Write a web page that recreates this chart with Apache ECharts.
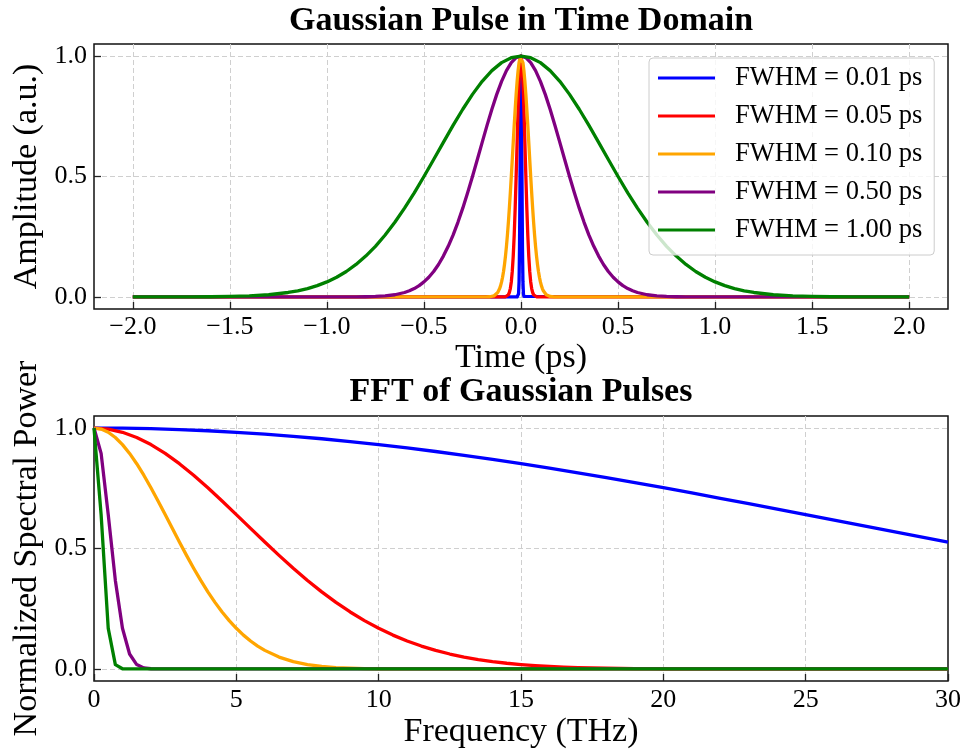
<!DOCTYPE html>
<html>
<head>
<meta charset="utf-8">
<script src="https://cdn.jsdelivr.net/npm/echarts@6/dist/echarts.min.js"></script>
<style>
  html, body { margin: 0; padding: 0; background: #ffffff; }
  #chart { width: 962px; height: 752px; }
</style>
</head>
<body>
<div id="chart"></div>
<script>
// ---------- Data ----------
const seriesNames = ['FWHM = 0.01 ps', 'FWHM = 0.05 ps', 'FWHM = 0.10 ps', 'FWHM = 0.50 ps', 'FWHM = 1.00 ps'];
const seriesColors = ['#0000ff', '#ff0000', '#ffa500', '#800080', '#008000'];

// Top panel: time (ps) and amplitude (a.u.)
const timeBlue = [-2.0,-0.02,-0.015,-0.0125,-0.01,-0.0075,-0.005,-0.0025,0,0.0025,0.005,0.0075,0.01,0.0125,0.015,0.02,2.0];
const ampBlue  = [0,0,0.0020,0.0131,0.0625,0.2102,0.5,0.8409,1,0.8409,0.5,0.2102,0.0625,0.0131,0.0020,0,0];

const timeRed = [-2.0,-0.1,-0.08,-0.075,-0.07,-0.065,-0.06,-0.055,-0.05,-0.045,-0.04,-0.035,-0.03,-0.025,-0.02,-0.015,-0.01,-0.005,0,
                 0.005,0.01,0.015,0.02,0.025,0.03,0.035,0.04,0.045,0.05,0.055,0.06,0.065,0.07,0.075,0.08,0.1,2.0];
const ampRed  = [0,0,0.0008,0.0020,0.0044,0.0092,0.0185,0.0349,0.0625,0.1058,0.1696,0.2570,0.3686,0.5,0.6417,0.7792,0.8950,0.9727,1,
                 0.9727,0.8950,0.7792,0.6417,0.5,0.3686,0.2570,0.1696,0.1058,0.0625,0.0349,0.0185,0.0092,0.0044,0.0020,0.0008,0,0];

const timeOrange = [-2.0,-0.2,-0.18,-0.17,-0.16,-0.15,-0.14,-0.13,-0.12,-0.115,-0.11,-0.105,-0.1,-0.095,-0.09,-0.085,-0.08,-0.075,-0.07,-0.065,-0.06,-0.055,-0.05,-0.045,-0.04,-0.035,-0.03,-0.025,-0.02,-0.015,-0.01,-0.005,0,
                    0.005,0.01,0.015,0.02,0.025,0.03,0.035,0.04,0.045,0.05,0.055,0.06,0.065,0.07,0.075,0.08,0.085,0.09,0.095,0.1,0.105,0.11,0.115,0.12,0.13,0.14,0.15,0.16,0.17,0.18,0.2,2.0];
const ampOrange  = [0,0,0.0001,0.0003,0.0008,0.0020,0.0044,0.0092,0.0185,0.0256,0.0349,0.0470,0.0625,0.0819,0.1058,0.1349,0.1696,0.2102,0.2570,0.3099,0.3686,0.4323,0.5,0.5704,0.6417,0.7121,0.7792,0.8409,0.8950,0.9395,0.9727,0.9931,1,
                    0.9931,0.9727,0.9395,0.8950,0.8409,0.7792,0.7121,0.6417,0.5704,0.5,0.4323,0.3686,0.3099,0.2570,0.2102,0.1696,0.1349,0.1058,0.0819,0.0625,0.0470,0.0349,0.0256,0.0185,0.0092,0.0044,0.0020,0.0008,0.0003,0.0001,0,0];

const timePurple = [-2.0,-1.0,-0.9,-0.85,-0.8,-0.75,-0.7,-0.65,-0.6,-0.575,-0.55,-0.525,-0.5,-0.475,-0.45,-0.425,-0.4,-0.375,-0.35,-0.325,-0.3,-0.275,-0.25,-0.225,-0.2,-0.175,-0.15,-0.125,-0.1,-0.075,-0.05,-0.025,0,
                    0.025,0.05,0.075,0.1,0.125,0.15,0.175,0.2,0.225,0.25,0.275,0.3,0.325,0.35,0.375,0.4,0.425,0.45,0.475,0.5,0.525,0.55,0.575,0.6,0.65,0.7,0.75,0.8,0.85,0.9,1.0,2.0];
const ampPurple  = [0,0,0.0001,0.0003,0.0008,0.0020,0.0044,0.0092,0.0185,0.0256,0.0349,0.0470,0.0625,0.0819,0.1058,0.1349,0.1696,0.2102,0.2570,0.3099,0.3686,0.4323,0.5,0.5704,0.6417,0.7121,0.7792,0.8409,0.8950,0.9395,0.9727,0.9931,1,
                    0.9931,0.9727,0.9395,0.8950,0.8409,0.7792,0.7121,0.6417,0.5704,0.5,0.4323,0.3686,0.3099,0.2570,0.2102,0.1696,0.1349,0.1058,0.0819,0.0625,0.0470,0.0349,0.0256,0.0185,0.0092,0.0044,0.0020,0.0008,0.0003,0.0001,0,0];

const timeGreen = [-2.0,-1.8,-1.7,-1.6,-1.5,-1.4,-1.3,-1.2,-1.15,-1.1,-1.05,-1.0,-0.95,-0.9,-0.85,-0.8,-0.75,-0.7,-0.65,-0.6,-0.55,-0.5,-0.45,-0.4,-0.35,-0.3,-0.25,-0.2,-0.15,-0.1,-0.05,0,
                   0.05,0.1,0.15,0.2,0.25,0.3,0.35,0.4,0.45,0.5,0.55,0.6,0.65,0.7,0.75,0.8,0.85,0.9,0.95,1.0,1.05,1.1,1.15,1.2,1.3,1.4,1.5,1.6,1.7,1.8,2.0];
const ampGreen  = [0,0.0001,0.0003,0.0008,0.0020,0.0044,0.0092,0.0185,0.0256,0.0349,0.0470,0.0625,0.0819,0.1058,0.1349,0.1696,0.2102,0.2570,0.3099,0.3686,0.4323,0.5,0.5704,0.6417,0.7121,0.7792,0.8409,0.8950,0.9395,0.9727,0.9931,1,
                   0.9931,0.9727,0.9395,0.8950,0.8409,0.7792,0.7121,0.6417,0.5704,0.5,0.4323,0.3686,0.3099,0.2570,0.2102,0.1696,0.1349,0.1058,0.0819,0.0625,0.0470,0.0349,0.0256,0.0185,0.0092,0.0044,0.0020,0.0008,0.0003,0.0001,0];

// Bottom panel: frequency (THz) and normalized spectral power
const freqBlue  = [0,1,2,3,4,5,6,7,8,9,10,11,12,13,14,15,16,17,18,19,20,21,22,23,24,25,26,27,28,29,30];
const powerBlue = [1,0.9993,0.9972,0.9936,0.9887,0.9824,0.9747,0.9657,0.9555,0.9440,0.9313,0.9175,0.9026,0.8866,0.8698,0.8520,
                   0.8334,0.8140,0.7940,0.7734,0.7522,0.7305,0.7085,0.6862,0.6636,0.6408,0.6180,0.5951,0.5723,0.5495,0.5269];

const freqRed  = [0,0.5,1,1.5,2,2.5,3,3.5,4,4.5,5,5.5,6,6.5,7,7.5,8,8.5,9,9.5,10,10.5,11,11.5,12,12.5,13,13.5,14,14.5,15,15.5,16,16.5,17,17.5,18,18.5,19,19.5,20,20.5,21,21.5,22,30];
const powerRed = [1,0.9956,0.9824,0.9607,0.9313,0.8947,0.8520,0.8041,0.7522,0.6974,0.6408,0.5837,0.5269,0.4714,0.4181,0.3674,0.3201,0.2764,0.2365,0.2006,
                  0.1687,0.1405,0.1161,0.0950,0.0771,0.0620,0.0494,0.0390,0.0306,0.0237,0.0182,0.0139,0.0105,0.0079,0.0058,0.0043,0.0031,0.0023,0.0016,0.0012,
                  0.0008,0.0005,0.0004,0.0003,0.0002,0];

const freqOrange  = [0,0.25,0.5,0.75,1,1.25,1.5,1.75,2,2.25,2.5,2.75,3,3.25,3.5,3.75,4,4.25,4.5,4.75,5,5.25,5.5,5.75,6,6.5,7,7.5,8,8.5,9,9.5,10,10.5,11,30];
const powerOrange = [1,0.9956,0.9824,0.9607,0.9313,0.8947,0.8520,0.8041,0.7522,0.6974,0.6408,0.5837,0.5269,0.4714,0.4181,0.3674,0.3201,0.2764,0.2365,0.2006,
                     0.1687,0.1405,0.1161,0.0950,0.0771,0.0494,0.0306,0.0182,0.0105,0.0058,0.0031,0.0016,0.0008,0.0004,0.0002,0];

const freqPurple  = [0,0.25,0.5,0.75,1,1.25,1.5,1.75,2,2.25,2.5,30];
const powerPurple = [1,0.8947,0.6408,0.3674,0.1687,0.0620,0.0182,0.0043,0.0008,0.0001,0,0];

const freqGreen  = [0,0.25,0.5,0.75,1,1.25,30];
const powerGreen = [1,0.6408,0.1687,0.0182,0.0008,0,0];

// ---------- Chart ----------
const FONT = "'Liberation Serif', 'Times New Roman', Times, serif";
const zip = (xs, ys) => xs.map((x, i) => [x, ys[i]]);

const timeSets  = [[timeBlue, ampBlue], [timeRed, ampRed], [timeOrange, ampOrange], [timePurple, ampPurple], [timeGreen, ampGreen]];
const freqSets  = [[freqBlue, powerBlue], [freqRed, powerRed], [freqOrange, powerOrange], [freqPurple, powerPurple], [freqGreen, powerGreen]];

function mkSeries(sets, axisIdx) {
  return sets.map((s, i) => ({
    type: 'line',
    name: seriesNames[i],
    xAxisIndex: axisIdx,
    yAxisIndex: axisIdx,
    data: zip(s[0], s[1]),
    showSymbol: false,
    symbol: 'none',
    color: seriesColors[i],
    lineStyle: { width: 3.3, color: seriesColors[i], join: 'round' },
    emphasis: { disabled: true },
    animation: false,
    z: 2 + i * 0.01
  }));
}

const tickLabel = { color: '#000', fontFamily: FONT, fontSize: 26 };
const nameStyle = { color: '#000', fontFamily: FONT, fontSize: 34 };
const splitLine = { show: true, showMinLine: false, showMaxLine: false,
                    lineStyle: { color: '#cfcfcf', type: [5, 3], width: 1 } };
const axisTick = { show: true, inside: true, length: 7, lineStyle: { color: '#222', width: 1.3 } };

const chart = echarts.init(document.getElementById('chart'), null, { renderer: 'canvas' });
chart.setOption({
  animation: false,
  backgroundColor: '#ffffff',
  title: [
    { text: 'Gaussian Pulse in Time Domain', left: 521, top: 4, textAlign: 'center', padding: 0,
      textStyle: { fontFamily: FONT, fontSize: 34, fontWeight: 'bold', color: '#000' } },
    { text: 'FFT of Gaussian Pulses', left: 521, top: 375, textAlign: 'center', padding: 0,
      textStyle: { fontFamily: FONT, fontSize: 34, fontWeight: 'bold', color: '#000' } }
  ],
  legend: {
    data: seriesNames,
    orient: 'vertical',
    left: 649, top: 58,
    padding: [5, 12, 10, 9],
    itemGap: 8,
    itemWidth: 57, itemHeight: 3,
    icon: 'rect',
    backgroundColor: 'rgba(255,255,255,0.8)',
    borderColor: '#cccccc', borderWidth: 1, borderRadius: 4,
    textStyle: { fontFamily: FONT, fontSize: 26.5, color: '#000', lineHeight: 30, padding: [0, 0, 0, 15] },
    selectedMode: false
  },
  grid: [
    { left: 94, right: 14, top: 44, height: 265, show: true, borderColor: '#111', borderWidth: 1.5,
      backgroundColor: 'transparent', containLabel: false, outerBoundsMode: 'none' },
    { left: 94, right: 14, top: 416, height: 265, show: true, borderColor: '#111', borderWidth: 1.5,
      backgroundColor: 'transparent', containLabel: false, outerBoundsMode: 'none' }
  ],
  xAxis: [
    { type: 'value', gridIndex: 0, min: -2.2, max: 2.2, minInterval: 0.5, maxInterval: 0.5, splitNumber: 8,
      name: 'Time (ps)', nameLocation: 'middle', nameGap: 30, nameTextStyle: nameStyle,
      axisLine: { show: false, onZero: false }, axisTick: axisTick, splitLine: splitLine,
      axisLabel: Object.assign({ margin: 5, showMinLabel: false, showMaxLabel: false,
        formatter: v => (v < 0 ? '\u2212' : '') + Math.abs(v).toFixed(1) }, tickLabel) },
    { type: 'value', gridIndex: 1, min: 0, max: 30, interval: 5,
      name: 'Frequency (THz)', nameLocation: 'middle', nameGap: 34, nameTextStyle: nameStyle,
      axisLine: { show: false, onZero: false }, axisTick: axisTick, splitLine: splitLine,
      axisLabel: Object.assign({ margin: 6, formatter: v => String(v) }, tickLabel) }
  ],
  yAxis: [
    { type: 'value', gridIndex: 0, min: -0.05, max: 1.05, minInterval: 0.5, maxInterval: 0.5, splitNumber: 2,
      name: 'Amplitude (a.u.)', nameLocation: 'middle', nameGap: 46, nameRotate: 90, nameTextStyle: nameStyle,
      axisLine: { show: false, onZero: false }, axisTick: axisTick, splitLine: splitLine,
      axisLabel: Object.assign({ margin: 7, showMinLabel: false, showMaxLabel: false,
        formatter: v => v.toFixed(1) }, tickLabel) },
    { type: 'value', gridIndex: 1, min: -0.05, max: 1.05, minInterval: 0.5, maxInterval: 0.5, splitNumber: 2,
      name: 'Normalized Spectral Power', nameLocation: 'middle', nameGap: 50, nameRotate: 90, nameTextStyle: nameStyle,
      axisLine: { show: false, onZero: false }, axisTick: axisTick, splitLine: splitLine,
      axisLabel: Object.assign({ margin: 7, showMinLabel: false, showMaxLabel: false,
        formatter: v => v.toFixed(1) }, tickLabel) }
  ],
  series: mkSeries(timeSets, 0).concat(mkSeries(freqSets, 1))
});
</script>
</body>
</html>
